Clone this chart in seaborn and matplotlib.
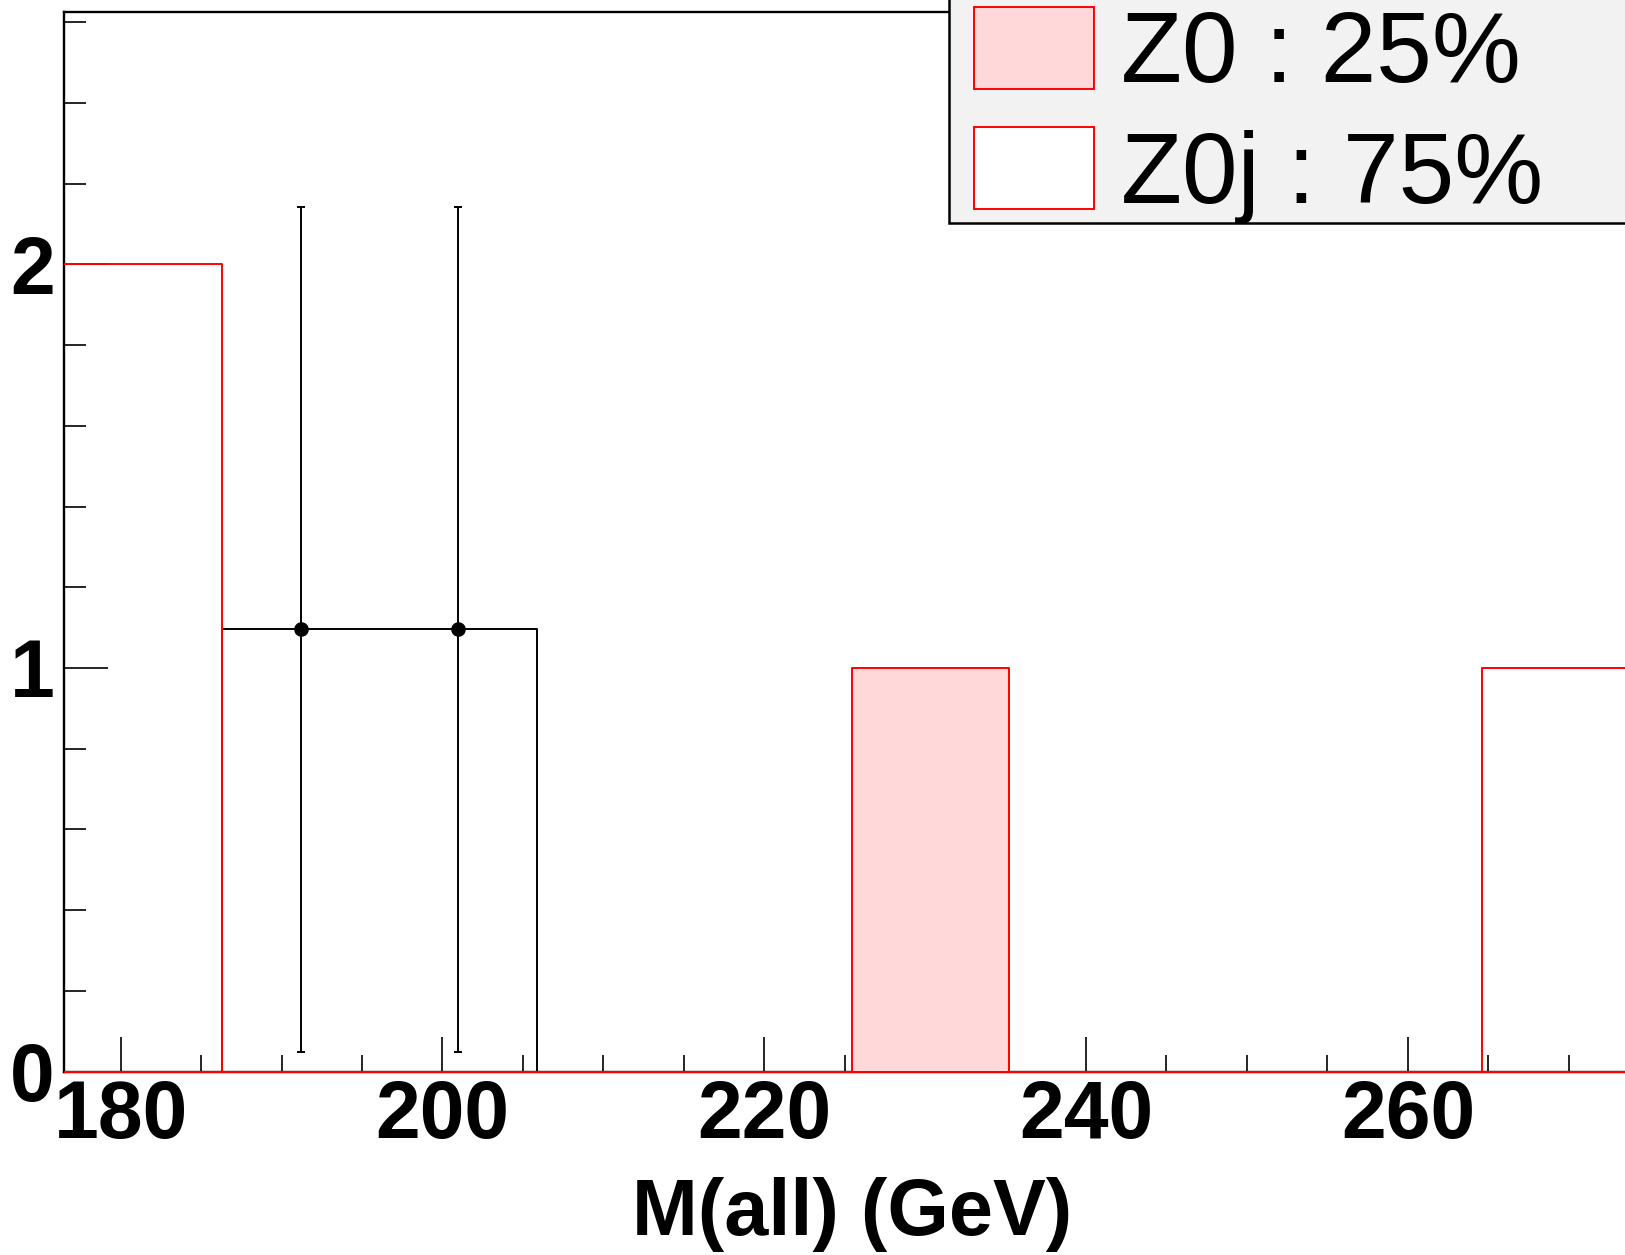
import numpy as np
import pandas as pd
import matplotlib
matplotlib.use("Agg")
import matplotlib.pyplot as plt
from matplotlib.patches import Patch, Rectangle
from matplotlib.ticker import MultipleLocator
import seaborn as sns

# ---- data ----
bin_edges = [176.5, 186.29, 196.08, 205.87, 215.66, 225.45, 235.24, 245.03, 254.82, 264.61, 274.4]
z0_counts = [0, 0, 0, 0, 0, 1, 0, 0, 0, 0]
z0j_counts = [2, 0, 0, 0, 0, 0, 0, 0, 0, 1]
data_counts = [0, 1.096, 1.096, 0, 0, 0, 0, 0, 0, 0]
legend_labels = ["Z0 : 25%", "Z0j : 75%"]
x_label = "M(all) (GeV)"

edges = np.array(bin_edges)
centers = (edges[:-1] + edges[1:]) / 2
df = pd.DataFrame({"x": centers, "z0": z0_counts, "z0j": z0j_counts, "data": data_counts})

sns.set_theme(style="ticks")
plt.rcParams["font.family"] = ["Liberation Sans", "DejaVu Sans"]
for k in ["text.color", "axes.labelcolor", "xtick.color", "ytick.color", "axes.edgecolor"]:
    plt.rcParams[k] = "black"

W, H = 1625, 1255
fig = plt.figure(figsize=(W / 100, H / 100), dpi=100)
ax_left, ax_bottom, ax_top = 64.3, 1071.6, 12.4
px_per_unit = 16.09
ax_w = (edges[-1] - edges[0]) * px_per_unit
ax = fig.add_axes([ax_left / W, (H - ax_bottom) / H, ax_w / W, (ax_bottom - ax_top) / H])

PINK = "#ffd9da"
RED = "#ff0000"
bins_list = list(bin_edges)

# data histogram outline
sns.histplot(data=df, x="x", weights="data", bins=bins_list, element="step", fill=False,
             color="black", linewidth=1.4, ax=ax, zorder=2)
# error bars
mask = df["data"] > 0
ax.errorbar(df.loc[mask, "x"], df.loc[mask, "data"], yerr=np.sqrt(df.loc[mask, "data"]),
            fmt="o", color="black", ms=9.5, capsize=3, elinewidth=1.4, capthick=1.4, zorder=4)
# Z0 filled
sns.histplot(data=df, x="x", weights="z0", bins=bins_list, element="step", fill=True,
             facecolor=PINK, edgecolor=RED, alpha=1, linewidth=1.4, ax=ax, zorder=3)
# Z0j outline
sns.histplot(data=df, x="x", weights="z0j", bins=bins_list, element="step", fill=False,
             color=RED, linewidth=1.4, ax=ax, zorder=3)

ax.set_xlim(edges[0], edges[-1])
ax.set_ylim(0, (ax_bottom - ax_top) / 403.6)

ax.xaxis.set_major_locator(MultipleLocator(20))
ax.xaxis.set_minor_locator(MultipleLocator(5))
ax.yaxis.set_major_locator(MultipleLocator(1))
ax.yaxis.set_minor_locator(MultipleLocator(0.2))

ax.tick_params(axis="x", which="major", direction="in", length=25, width=1.2, pad=5,
               labelsize=58, top=False, colors="black")
ax.tick_params(axis="x", which="minor", direction="in", length=12, width=1.2, top=False, colors="black")
ax.tick_params(axis="y", which="major", direction="in", length=32, width=1.2, pad=7,
               labelsize=58, right=False, colors="black")
ax.tick_params(axis="y", which="minor", direction="in", length=16, width=1.2, right=False, colors="black")
for lab in ax.get_xticklabels() + ax.get_yticklabels():
    lab.set_fontweight("bold")

for s in ["left", "bottom", "top"]:
    ax.spines[s].set_linewidth(1.7)
    ax.spines[s].set_color("black")
ax.spines["right"].set_visible(False)

ax.set_xlabel(x_label, fontsize=57, fontweight="bold", labelpad=16, color="black")
ax.set_ylabel("")

# legend background box
lx, lb = 949 / W, 1 - 222.8 / H
fig.patches.append(Rectangle((lx, lb), 1.2 - lx, 1.2 - lb, transform=fig.transFigure,
                             facecolor="#f2f2f2", edgecolor="black", linewidth=1.8, zorder=5))
handles = [Patch(facecolor=PINK, edgecolor=RED, linewidth=1.4),
           Patch(facecolor="white", edgecolor=RED, linewidth=1.4)]
leg = fig.legend(handles, legend_labels, loc="upper left",
                 bbox_to_anchor=(974 / W, 1 - 7 / H), frameon=False, fontsize=72,
                 handlelength=1.2, handleheight=0.88, handletextpad=0.27,
                 labelspacing=0.24, borderpad=0, borderaxespad=0)
for t in leg.get_texts():
    t.set_color("black")
leg.set_zorder(6)

fig.savefig("out.png", dpi=100)
